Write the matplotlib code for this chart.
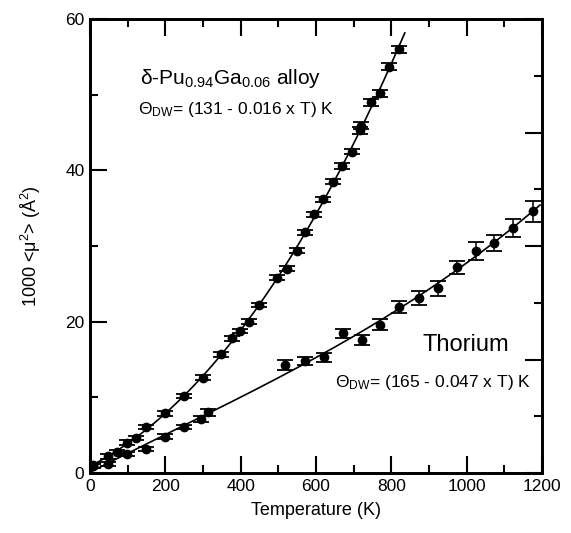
import numpy as np
import matplotlib
matplotlib.use("Agg")
import matplotlib.pyplot as plt
from matplotlib.ticker import MultipleLocator

plt.rcParams['font.family'] = ['Liberation Sans', 'DejaVu Sans']
plt.rcParams['mathtext.fontset'] = 'custom'
plt.rcParams['mathtext.rm'] = 'Liberation Sans'
plt.rcParams['mathtext.it'] = 'Liberation Sans:italic'

# delta-Pu(0.94)Ga(0.06) alloy: mean-square displacement x 1000 (A^2)
pu_temp = [8, 48, 72, 98, 122, 149, 199, 250, 300, 348, 377, 398, 422, 449,
           496, 523, 550, 571, 595, 619, 645, 669, 696, 717, 720, 746, 770,
           794, 820]
pu_msd = [1.0, 2.2, 2.8, 4.0, 4.6, 6.1, 7.9, 10.2, 12.6, 15.7, 17.8, 18.8,
          20.0, 22.2, 25.8, 27.0, 29.4, 31.8, 34.2, 36.2, 38.5, 40.6, 42.5,
          45.3, 45.9, 49.0, 50.2, 53.7, 56.0]
pu_err = [0.3] * 14 + [0.35] * 9 + [0.45] * 6

# Thorium
th_temp = [8, 48, 98, 149, 199, 250, 294, 314, 518, 571, 621, 672, 722,
           770, 820, 873, 924, 974, 1025, 1072, 1123, 1176]
th_msd = [0.9, 1.2, 2.5, 3.2, 4.8, 6.1, 7.2, 8.0, 14.3, 14.8, 15.3, 18.5,
          17.6, 19.6, 21.9, 23.1, 24.4, 27.2, 29.3, 30.4, 32.4, 34.6]
th_err = [0.3, 0.3, 0.3, 0.3, 0.3, 0.3, 0.4, 0.4, 0.7, 0.5, 0.6, 0.6, 0.7,
          0.7, 0.8, 0.9, 1.0, 0.85, 1.2, 1.0, 1.2, 1.4]

fig = plt.figure(figsize=(5.71, 5.33), dpi=100)
ax = fig.add_axes([0.1576, 0.1126, 0.7914, 0.8514])

# smooth fitted curves through each data set
for t, m, tmax in ((pu_temp, pu_msd, 836), (th_temp, th_msd, 1195)):
    coef = np.polyfit(t, m, 3)
    tt = np.linspace(0, tmax, 300)
    ax.plot(tt, np.polyval(coef, tt), color='black', lw=1.2, zorder=2)

ax.errorbar(pu_temp, pu_msd, yerr=pu_err, fmt='o', color='black', ms=6,
            capsize=5.5, elinewidth=1.1, capthick=1.3, zorder=3)
ax.errorbar(th_temp, th_msd, yerr=th_err, fmt='o', color='black', ms=6,
            capsize=6, elinewidth=1.1, capthick=1.3, zorder=3)

ax.set_xlim(0, 1200)
ax.set_ylim(0, 60)
ax.xaxis.set_major_locator(MultipleLocator(200))
ax.xaxis.set_minor_locator(MultipleLocator(100))
ax.yaxis.set_major_locator(MultipleLocator(20))
ax.yaxis.set_minor_locator(MultipleLocator(10))
ax.tick_params(which='both', direction='in', top=True, right=False,
               width=1.5, labelsize=12.5)
ax.tick_params(which='major', length=12, pad=4)
ax.tick_params(which='minor', length=6)

# right-hand axis carries its own tick spacing
axr = ax.twinx()
axr.set_ylim(0, 60)
axr.yaxis.set_major_locator(MultipleLocator(15))
axr.yaxis.set_minor_locator(MultipleLocator(7.5))
axr.tick_params(which='both', direction='in', labelright=False, width=1.5)
axr.tick_params(which='major', length=12)
axr.tick_params(which='minor', length=6)

for a in (ax, axr):
    for s in a.spines.values():
        s.set_linewidth(2)

ax.set_xlabel('Temperature (K)', fontsize=13, labelpad=6)
ax.set_ylabel('1000 <μ$^2$> (Å$^2$)', fontsize=13, labelpad=16)

ax.text(133, 52.2, r'δ-Pu$_{\mathrm{0.94}}$Ga$_{\mathrm{0.06}}$ alloy',
        fontsize=15, va='center', ha='left')
ax.text(127, 48.0, r'Θ$_{\mathrm{DW}}$= (131 - 0.016 x T) K',
        fontsize=12.5, va='center', ha='left')
ax.text(884, 16.9, 'Thorium', fontsize=17, va='center', ha='left')
ax.text(650, 11.9, r'Θ$_{\mathrm{DW}}$= (165 - 0.047 x T) K',
        fontsize=12.5, va='center', ha='left')

fig.savefig('out.png', dpi=100)
